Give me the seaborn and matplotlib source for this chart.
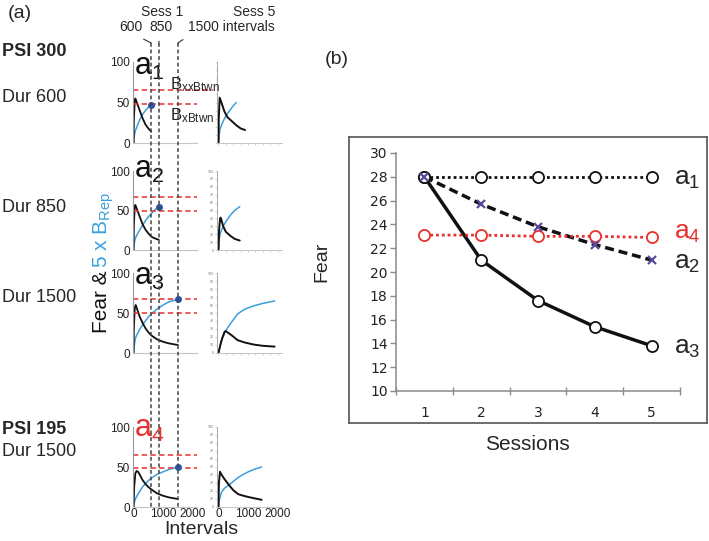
import matplotlib
matplotlib.use("Agg")
import matplotlib.pyplot as plt
import seaborn as sns
import numpy as np
import pandas as pd

# ---------------- data ----------------
# Panel (a), Session 1 column (x = intervals, fear = black, rep = 5 x B_Rep blue)
s1_a1_x = [0, 10, 40, 60, 100, 200, 300, 400, 500, 600]
s1_a1_fear = [0, 30, 52, 55, 51, 41, 31, 23, 18, 14]
s1_a1_rep = [0, 5, 12, 15, 19, 28, 35, 40, 44, 47]

s1_a2_x = [0, 10, 40, 60, 100, 200, 300, 400, 500, 600, 700, 850]
s1_a2_fear = [0, 32, 55, 57, 53, 43, 33, 26, 21, 17, 15, 13]
s1_a2_rep = [0, 5, 12, 15, 18, 25, 31, 37, 42, 46, 50, 55]

s1_a3_x = [0, 10, 40, 70, 100, 200, 300, 400, 500, 600, 800, 1000, 1200, 1500]
s1_a3_fear = [0, 32, 56, 60, 57, 46, 38, 31, 26, 22, 17, 14, 12, 10]
s1_a3_rep = [0, 6, 14, 19, 22, 29, 35, 40, 45, 49, 55, 60, 64, 67]

s1_a4_x = [0, 20, 60, 100, 150, 200, 300, 400, 500, 600, 800, 1000, 1200, 1500]
s1_a4_fear = [0, 25, 42, 45, 44, 41, 34, 29, 25, 22, 17, 14, 12, 10]
s1_a4_rep = [0, 5, 10, 13, 16, 19, 25, 29, 33, 36, 41, 44, 47, 50]

# Session 5 column
s5_a1_fear_x = [0, 10, 40, 100, 200, 300, 450, 600, 750, 900]
s5_a1_fear = [0, 30, 56, 50, 39, 32, 27, 22, 18, 16]
s5_a1_rep_x = [0, 20, 60, 100, 200, 300, 400, 500, 600]
s5_a1_rep = [0, 10, 18, 22, 30, 36, 41, 46, 50]

s5_a2_x = [0, 20, 50, 70, 100, 160, 250, 400, 550, 720]
s5_a2_fear = [0, 25, 38, 41, 38, 30, 23, 18, 14, 12]
s5_a2_rep = [0, 12, 19, 22, 25, 30, 36, 44, 50, 55]

s5_a3_x = [0, 50, 120, 200, 240, 300, 450, 650, 900, 1200, 1500, 1900]
s5_a3_fear = [0, 8, 18, 26, 27.5, 26, 22, 16, 13, 10.5, 9, 8]
s5_a3_rep = [0, 8, 17, 24, 27, 31, 39, 49, 55, 59, 62, 65]

s5_a4_x = [0, 15, 50, 110, 220, 355, 500, 670, 850, 1010, 1200, 1460]
s5_a4_fear = [0, 30, 44, 40, 34, 27.5, 21, 16, 14, 12.5, 11, 9]
s5_a4_rep = [0, 6, 12, 19, 24, 27.5, 32, 37, 41, 44, 47, 50]

# red dashed threshold lines (B_xxBtwn, B_xBtwn) per row
b_xx = [65, 67, 67, 65]
b_x = [48, 50, 50, 49]

# session-1 durations (vertical dashed lines)
durations = [600, 850, 1500]

row_names = ["a1", "a2", "a3", "a4"]
left_labels = ["Dur 600", "Dur 850", "Dur 1500", "Dur 1500"]

# Panel (b)
sessions = [1, 2, 3, 4, 5]
fear_a1 = [28, 28, 28, 28, 28]
fear_a2 = [28, 25.7, 23.8, 22.3, 21.0]
fear_a3 = [28, 21.0, 17.6, 15.4, 13.8]
fear_a4 = [23.1, 23.1, 23.0, 23.0, 22.9]
b_yticks = list(range(10, 31, 2))

# ---------------- style ----------------
sns.set_theme(style="white")
plt.rcParams["font.family"] = ["Liberation Sans", "DejaVu Sans"]
plt.rcParams["mathtext.fontset"] = "custom"
plt.rcParams["mathtext.rm"] = "Liberation Sans"
plt.rcParams["mathtext.it"] = "Liberation Sans:italic"
plt.rcParams["mathtext.bf"] = "Liberation Sans:bold"

W, H = 709, 541
fig = plt.figure(figsize=(W / 100, H / 100), dpi=100)


def rect(l, t, r, b):
    return [l / W, 1 - b / H, (r - l) / W, (b - t) / H]


def ftext(x, y, s, **kw):
    return fig.text(x / W, 1 - y / H, s, **kw)


BLACK = "#111111"
BLUE = "#3A9FDC"
RED = "#E8302C"
DOT = "#2E53A3"

rows_px = [(62, 143), (171, 250), (273, 353), (427, 507)]
col1_px = (133, 197)
col2_px = (217, 282)
col1_xlim = (-20, 2150)
col2_xlim = (-50, 2150)

s1_data = [
    (s1_a1_x, s1_a1_fear, s1_a1_x, s1_a1_rep),
    (s1_a2_x, s1_a2_fear, s1_a2_x, s1_a2_rep),
    (s1_a3_x, s1_a3_fear, s1_a3_x, s1_a3_rep),
    (s1_a4_x, s1_a4_fear, s1_a4_x, s1_a4_rep),
]
s5_data = [
    (s5_a1_fear_x, s5_a1_fear, s5_a1_rep_x, s5_a1_rep),
    (s5_a2_x, s5_a2_fear, s5_a2_x, s5_a2_rep),
    (s5_a3_x, s5_a3_fear, s5_a3_x, s5_a3_rep),
    (s5_a4_x, s5_a4_fear, s5_a4_x, s5_a4_rep),
]
label_base = [0.84, 0.91, 0.85, 0.875]

for i, (t, b) in enumerate(rows_px):
    # ---- Session 1 column ----
    ax = fig.add_axes(rect(col1_px[0], t, col1_px[1], b))
    fx, fy, rx, ry = s1_data[i]
    sns.lineplot(x=rx, y=ry, ax=ax, color=BLUE, lw=1.1, estimator=None, sort=False)
    sns.lineplot(x=fx, y=fy, ax=ax, color=BLACK, lw=1.3, estimator=None, sort=False)
    ax.plot(rx[-1], ry[-1], "o", color=DOT, ms=4, zorder=5)
    ax.axhline(b_xx[i], xmin=0, xmax=1.25 if i == 0 else 1.0, color=RED,
               lw=1.1, ls=(0, (3.5, 2.2)), clip_on=False)
    ax.axhline(b_x[i], color=RED, lw=1.1, ls=(0, (3.5, 2.2)))
    ax.set_xlim(*col1_xlim)
    ax.set_ylim(0, 100)
    ax.set_facecolor("none")
    sns.despine(ax=ax)
    ax.spines["left"].set_color("#999999")
    ax.spines["left"].set_linewidth(0.8)
    ax.spines["bottom"].set_color("#c4c4c4")
    ax.spines["bottom"].set_linewidth(0.8)
    ax.set_yticks([0, 50, 100])
    ax.tick_params(axis="y", labelsize=8.5, length=0, pad=2, labelcolor="#222")
    if i == 3:
        ax.set_xticks([0, 1000, 2000])
        ax.tick_params(axis="x", labelsize=8.5, length=0, pad=0.5, labelcolor="#222")
    else:
        ax.set_xticks([])
    ax.set_xlabel("")
    ax.set_ylabel("")
    sub = row_names[i][1]
    ax.text(0.02, label_base[i], r"$\mathregular{a_%s}$" % sub, transform=ax.transAxes,
            fontsize=22, va="baseline", ha="left",
            color=RED if i == 3 else BLACK, clip_on=False)

    # ---- Session 5 column ----
    ax2 = fig.add_axes(rect(col2_px[0], t, col2_px[1], b))
    fx, fy, rx, ry = s5_data[i]
    sns.lineplot(x=rx, y=ry, ax=ax2, color=BLUE, lw=1.1, estimator=None, sort=False)
    sns.lineplot(x=fx, y=fy, ax=ax2, color=BLACK, lw=1.4, estimator=None, sort=False)
    ax2.set_xlim(*col2_xlim)
    ax2.set_ylim(0, 100)
    ax2.set_facecolor("none")
    sns.despine(ax=ax2)
    ax2.spines["left"].set_color("#aaaaaa")
    ax2.spines["left"].set_linewidth(0.7)
    ax2.spines["bottom"].set_color("#c4c4c4")
    ax2.spines["bottom"].set_linewidth(0.7)
    ax2.set_yticks(list(range(0, 101, 10)))
    ax2.tick_params(axis="y", left=True, labelsize=2.5, length=1.5, width=0.4,
                    pad=0.5, color="#aaaaaa", labelcolor="#777",
                    labelleft=(i != 0))
    if i == 3:
        ax2.set_xticks([0, 1000, 2000])
        ax2.tick_params(axis="x", labelsize=8.5, length=0, pad=0.5, labelcolor="#222")
    else:
        ax2.set_xticks(list(range(0, 2001, 250)))
        ax2.tick_params(axis="x", bottom=True, labelbottom=False, length=1.5,
                        width=0.4, color="#aaaaaa")
    ax2.set_xlabel("")
    ax2.set_ylabel("")

# ---- overlay for vertical dashed duration lines and header labels ----
ov = fig.add_axes(rect(col1_px[0], 0, col1_px[1], H))
ov.set_xlim(*col1_xlim)
ov.set_ylim(H, 0)
ov.axis("off")
ov.patch.set_alpha(0)
ov.vlines(durations, 43, 508, colors="#444444", linestyles=(0, (2.5, 1.8)), lw=1.1)
arrow = dict(arrowstyle="-", color="#333333", lw=0.8, shrinkA=3, shrinkB=0)
ov.annotate("600", xy=(durations[0], 43), xytext=(131, H - 27), textcoords="figure pixels",
            ha="center", va="center", fontsize=10, annotation_clip=False,
            arrowprops=dict(arrow, relpos=(0.6, 0)))
ov.annotate("850", xy=(durations[1], 43), xytext=(161, H - 27), textcoords="figure pixels",
            ha="center", va="center", fontsize=10, annotation_clip=False,
            arrowprops=dict(arrow, relpos=(0.5, 0)))
ov.annotate("1500 intervals", xy=(durations[2], 43), xytext=(188, H - 27),
            textcoords="figure pixels", ha="left", va="center", fontsize=10,
            annotation_clip=False, arrowprops=dict(arrow, relpos=(0.04, 0)))

ftext(162, 12, "Sess 1", ha="center", va="center", fontsize=10)
ftext(254, 12, "Sess 5", ha="center", va="center", fontsize=10)

ftext(170, 89, r"$\mathregular{B_{xxBtwn}}$", ha="left", va="baseline", fontsize=12)
ftext(170, 120, r"$\mathregular{B_{xBtwn}}$", ha="left", va="baseline", fontsize=12)

# left side labels
ftext(20, 13, "(a)", ha="center", va="center", fontsize=14)
ftext(2, 52, "PSI 300", ha="left", va="center", fontsize=13, fontweight="bold")
ftext(2, 97, left_labels[0], ha="left", va="center", fontsize=13)
ftext(2, 207, left_labels[1], ha="left", va="center", fontsize=13)
ftext(2, 298, left_labels[2], ha="left", va="center", fontsize=13)
ftext(2, 430, "PSI 195", ha="left", va="center", fontsize=13, fontweight="bold")
ftext(2, 452, left_labels[3], ha="left", va="center", fontsize=13)

ftext(92, 270, "Fear &", rotation=90, ha="left", va="top", fontsize=15, color=BLACK)
ftext(92, 268, r"$\mathregular{5\ x\ B_{Rep}}$", rotation=90, ha="left", va="bottom",
      fontsize=15, color=BLUE)
ftext(201, 530, "Intervals", ha="center", va="center", fontsize=14)

# ---------------- panel (b) ----------------
ftext(337, 59, "(b)", ha="center", va="center", fontsize=14)
frame = fig.add_axes(rect(349, 137, 707, 423))
frame.set_xticks([])
frame.set_yticks([])
frame.set_facecolor("white")
for sp in frame.spines.values():
    sp.set_color("#555555")
    sp.set_linewidth(1.2)

axb = fig.add_axes(rect(396, 153, 680, 391))
axb.set_facecolor("none")
sns.lineplot(x=sessions, y=fear_a3, ax=axb, color=BLACK, lw=2.5, estimator=None,
             marker="o", markersize=8, markerfacecolor="white",
             markeredgecolor=BLACK, markeredgewidth=1.3, zorder=3)
sns.lineplot(x=sessions, y=fear_a2, ax=axb, color=BLACK, lw=2.5, estimator=None,
             linestyle=(0, (2.6, 1.4)), zorder=3)
sns.lineplot(x=sessions, y=fear_a1, ax=axb, color=BLACK, lw=2.0, estimator=None,
             linestyle=(0, (1, 1.1)), marker="o", markersize=8,
             markerfacecolor="white", markeredgecolor=BLACK, markeredgewidth=1.3,
             zorder=4)
sns.lineplot(x=sessions, y=fear_a4, ax=axb, color=RED, lw=2.0, estimator=None,
             linestyle=(0, (1, 1.1)), marker="o", markersize=8,
             markerfacecolor="white", markeredgecolor=RED, markeredgewidth=1.3,
             zorder=4)
axb.plot(sessions, fear_a2, ls="none", marker="x", ms=6, mew=1.6, color="#5b4a9c", zorder=6)

axb.set_xlim(0.5, 5.5)
axb.set_ylim(10, 30)
axb.set_yticks(b_yticks)
axb.set_xticks(sessions)
axb.set_xticks([s - 0.5 for s in sessions] + [sessions[-1] + 0.5], minor=True)
sns.despine(ax=axb)
for s in ("left", "bottom"):
    axb.spines[s].set_color("#8a8a8a")
    axb.spines[s].set_linewidth(1.1)
axb.tick_params(axis="y", left=True, direction="out", length=4, width=1.0,
                color="#8a8a8a", labelsize=10, pad=2, labelcolor="#222")
axb.tick_params(axis="x", which="major", bottom=False, length=0, labelsize=10,
                pad=11, labelcolor="#222")
axb.tick_params(axis="x", which="minor", bottom=True, direction="inout", length=6,
                width=1.0, color="#8a8a8a")
for lab in axb.get_xticklabels() + axb.get_yticklabels():
    lab.set_fontfamily("DejaVu Sans")
axb.set_xlabel("")
axb.set_ylabel("")

lab_x = 5.39
axb.text(lab_x, 27.3, r"$\mathregular{a_1}$", fontsize=19, va="baseline", ha="left", clip_on=False)
axb.text(lab_x, 22.8, r"$\mathregular{a_4}$", fontsize=19, va="baseline", ha="left",
         color=RED, clip_on=False)
axb.text(lab_x, 20.3, r"$\mathregular{a_2}$", fontsize=19, va="baseline", ha="left", clip_on=False)
axb.text(lab_x, 13.1, r"$\mathregular{a_3}$", fontsize=19, va="baseline", ha="left", clip_on=False)

ftext(322, 262, "Fear", rotation=90, ha="center", va="center", fontsize=14)
ftext(527, 445, "Sessions", ha="center", va="center", fontsize=15)

fig.savefig("out.png", dpi=100)
